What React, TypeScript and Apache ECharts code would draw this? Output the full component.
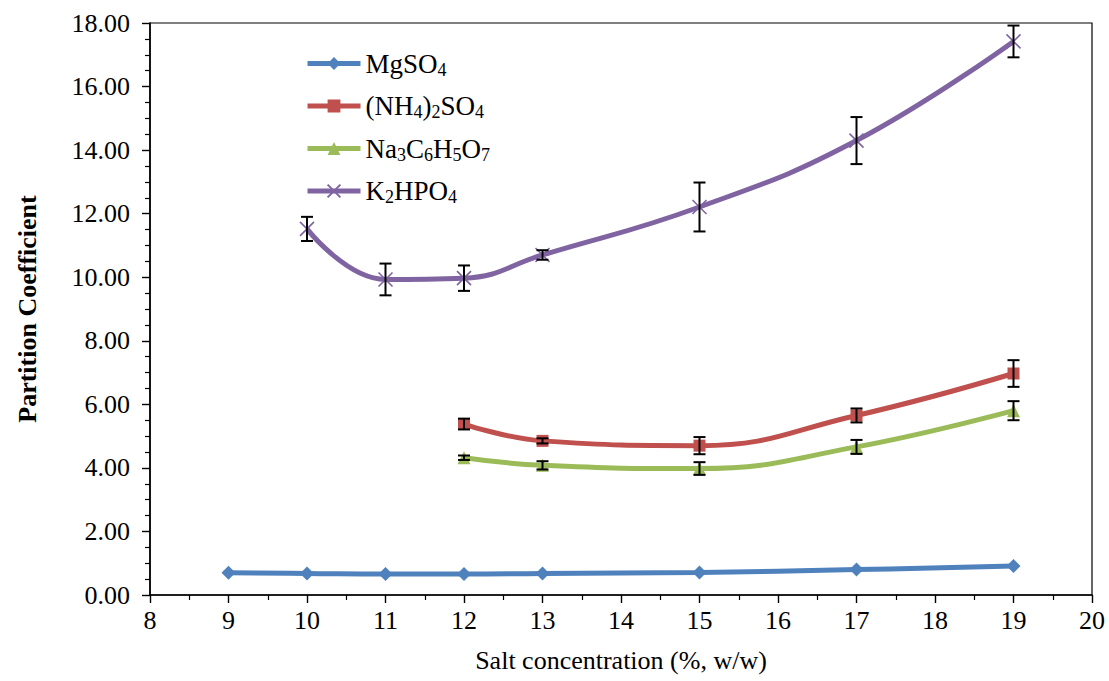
import React, { useEffect, useRef } from "react";
import * as echarts from "echarts";

const xMg = [9, 10, 11, 12, 13, 15, 17, 19];
const yMg = [0.7, 0.68, 0.66, 0.66, 0.68, 0.71, 0.8, 0.91];

const xNH = [12, 13, 15, 17, 19];
const yNH = [5.38, 4.85, 4.7, 5.65, 6.97];
const eNH = [0.17, 0.08, 0.27, 0.22, 0.42];

const xNa = [12, 13, 15, 17, 19];
const yNa = [4.32, 4.08, 3.98, 4.66, 5.8];
const eNa = [0.07, 0.13, 0.2, 0.22, 0.3];

const xK = [10, 11, 12, 13, 15, 17, 19];
const yK = [11.52, 9.93, 9.97, 10.7, 12.21, 14.3, 17.42];
const eK = [0.38, 0.5, 0.4, 0.15, 0.77, 0.74, 0.5];

const seriesNames = ["MgSO4", "(NH4)2SO4", "Na3C6H5O7", "K2HPO4"];
const legendRich: Record<string, string> = {
  MgSO4: "{n|MgSO}{s|4}",
  "(NH4)2SO4": "{n|(NH}{s|4}{n|)}{s|2}{n|SO}{s|4}",
  Na3C6H5O7: "{n|Na}{s|3}{n|C}{s|6}{n|H}{s|5}{n|O}{s|7}",
  K2HPO4: "{n|K}{s|2}{n|HPO}{s|4}",
};
const colors = ["#4F81BD", "#C0504D", "#9BBB59", "#8064A2"];

const FONT = '"Liberation Serif", "Times New Roman", serif';

function zip(xs: number[], ys: number[]) {
  return xs.map((x, i) => [x, ys[i]]);
}
function errData(xs: number[], ys: number[], es: number[]) {
  return xs.map((x, i) => [x, ys[i], ys[i] - es[i], ys[i] + es[i]]);
}

const errorSeries = (data: number[][]) => ({
  type: "custom",
  z: 10,
  silent: true,
  data,
  encode: { x: 0, y: [1, 2, 3] },
  renderItem: (params: any, api: any) => {
    const x = api.value(0);
    const lo = api.coord([x, api.value(2)]);
    const hi = api.coord([x, api.value(3)]);
    const hw = 6;
    const style = { stroke: "#000", lineWidth: 2 };
    return {
      type: "group",
      children: [
        { type: "line", shape: { x1: lo[0], y1: lo[1], x2: hi[0], y2: hi[1] }, style },
        { type: "line", shape: { x1: lo[0] - hw, y1: lo[1], x2: lo[0] + hw, y2: lo[1] }, style },
        { type: "line", shape: { x1: hi[0] - hw, y1: hi[1], x2: hi[0] + hw, y2: hi[1] }, style },
      ],
    };
  },
});

export default function App() {
  const ref = useRef<HTMLDivElement>(null);
  useEffect(() => {
    if (!ref.current) return;
    const chart = echarts.init(ref.current, null, { renderer: "svg" });
    const lineBase = (name: string, data: number[][], color: string, symbol: string, size: number, extra: any = {}) => ({
      name,
      type: "line",
      data,
      smooth: 0.45,
      symbol,
      symbolSize: size,
      lineStyle: { width: 5, color },
      itemStyle: { color, ...extra },
      z: 3,
    });
    chart.setOption({
      animation: false,
      backgroundColor: "#fff",
      textStyle: { fontFamily: FONT },
      grid: {
        left: 150,
        right: 17,
        top: 23,
        bottom: 86,
        show: true,
        borderColor: "#000",
        borderWidth: 1.2,
      },
      legend: {
        orient: "vertical",
        left: 300,
        top: 45,
        itemWidth: 53,
        itemHeight: 16,
        itemGap: 14,
        data: seriesNames,
        lineStyle: { width: 5 },
        formatter: (name: string) => legendRich[name],
        textStyle: {
          fontFamily: FONT,
          color: "#000",
          rich: {
            n: { fontSize: 27, fontFamily: FONT, color: "#000", lineHeight: 30, verticalAlign: "middle" },
            s: { fontSize: 18, fontFamily: FONT, color: "#000", lineHeight: 17, verticalAlign: "bottom" },
          },
        },
      },
      xAxis: {
        type: "value",
        min: 8,
        max: 20,
        interval: 1,
        name: "Salt concentration (%, w/w)",
        nameLocation: "middle",
        nameGap: 52,
        nameTextStyle: { fontFamily: FONT, fontSize: 26, color: "#000" },
        axisLine: { lineStyle: { color: "#000", width: 1.6 } },
        axisTick: { show: true, length: 8, lineStyle: { color: "#000", width: 1.4 } },
        minorTick: { show: true, splitNumber: 2, length: 5, lineStyle: { color: "#000", width: 1.2 } },
        splitLine: { show: false },
        axisLabel: { fontFamily: FONT, fontSize: 26, color: "#000", margin: 12 },
      },
      yAxis: {
        type: "value",
        min: 0,
        max: 18,
        interval: 2,
        name: "Partition Coefficient",
        nameLocation: "middle",
        nameGap: 110,
        nameTextStyle: { fontFamily: FONT, fontSize: 26, fontWeight: "bold", color: "#000" },
        axisLine: { show: true, lineStyle: { color: "#000", width: 1.6 } },
        axisTick: { show: true, length: 8, lineStyle: { color: "#000", width: 1.4 } },
        minorTick: { show: true, splitNumber: 4, length: 5, lineStyle: { color: "#000", width: 1.2 } },
        splitLine: { show: false },
        axisLabel: {
          fontFamily: FONT,
          fontSize: 26,
          color: "#000",
          margin: 20,
          formatter: (v: number) => v.toFixed(2),
        },
      },
      series: [
        lineBase(seriesNames[0], zip(xMg, yMg), colors[0], "diamond", 14),
        lineBase(seriesNames[1], zip(xNH, yNH), colors[1], "rect", 12),
        lineBase(seriesNames[2], zip(xNa, yNa), colors[2], "triangle", 13),
        lineBase(seriesNames[3], zip(xK, yK), colors[3], "path://M0,0L10,10M10,0L0,10", 14, {
          borderColor: colors[3],
          borderWidth: 1.6,
        }),
        errorSeries(errData(xNH, yNH, eNH)),
        errorSeries(errData(xNa, yNa, eNa)),
        errorSeries(errData(xK, yK, eK)),
      ],
    });
    return () => chart.dispose();
  }, []);
  return (
    <div
      ref={ref}
      style={{ position: "absolute", left: 0, top: 0, width: 1109, height: 681 }}
    />
  );
}
